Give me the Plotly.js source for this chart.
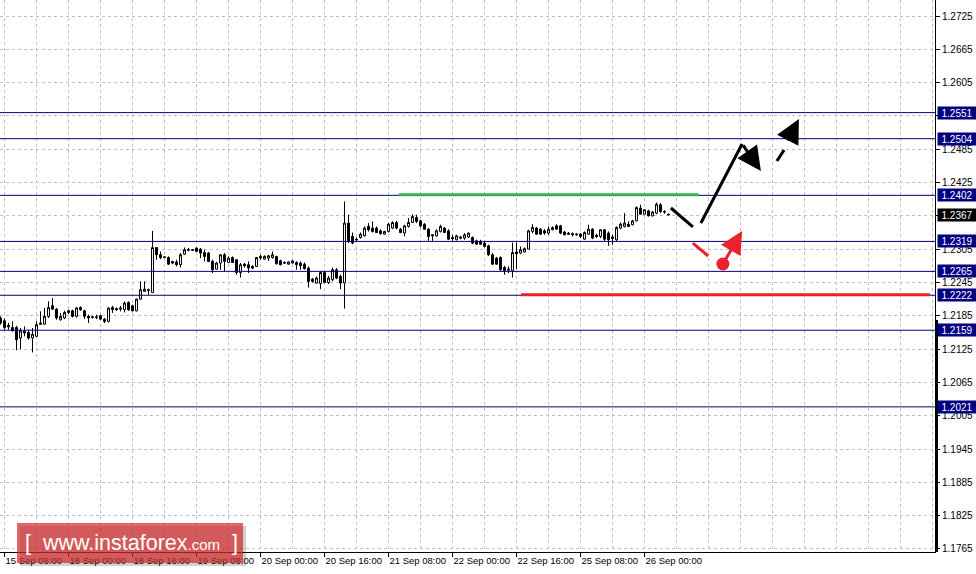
<!DOCTYPE html>
<html>
<head>
<meta charset="utf-8">
<script src="https://cdn.plot.ly/plotly-3.0.1.min.js"></script>
<style>html,body{margin:0;padding:0;background:#fff;}#chart{width:976px;height:574px;}</style>
</head>
<body>
<div id="chart"></div>
<script>
// ---- data (H1 candles) ----
const open = [1.2181,1.2176,1.2165,1.2164,1.2164,1.2145,1.2157,1.2155,1.2145,1.2148,1.2172,1.2170,1.2184,1.2203,1.2197,1.2178,1.2181,1.2194,1.2194,1.2184,
1.2200,1.2194,1.2184,1.2182,1.2182,1.2185,1.2179,1.2175,1.2200,1.2198,1.2197,1.2196,1.2209,1.2203,1.2194,1.2215,1.2229,1.2232,1.2227,1.2308,
1.2295,1.2290,1.2290,1.2283,1.2282,1.2277,1.2296,1.2303,1.2304,1.2307,1.2305,1.2299,1.2298,1.2283,1.2269,1.2280,1.2295,1.2281,1.2290,1.2286,
1.2263,1.2278,1.2277,1.2274,1.2274,1.2292,1.2287,1.2289,1.2290,1.2292,1.2284,1.2281,1.2278,1.2280,1.2281,1.2280,1.2278,1.2271,1.2251,1.2244,
1.2243,1.2263,1.2245,1.2250,1.2268,1.2256,1.2244,1.2352,1.2328,1.2323,1.2326,1.2329,1.2346,1.2343,1.2343,1.2338,1.2332,1.2337,1.2343,1.2353,
1.2341,1.2334,1.2346,1.2353,1.2362,1.2356,1.2350,1.2341,1.2329,1.2329,1.2337,1.2343,1.2338,1.2326,1.2322,1.2327,1.2325,1.2327,1.2326,1.2320,
1.2319,1.2316,1.2311,1.2295,1.2289,1.2290,1.2272,1.2267,1.2266,1.2300,1.2298,1.2300,1.2305,1.2337,1.2343,1.2341,1.2338,1.2334,1.2340,1.2347,
1.2347,1.2336,1.2334,1.2333,1.2331,1.2332,1.2323,1.2332,1.2341,1.2330,1.2328,1.2340,1.2334,1.2324,1.2322,1.2343,1.2346,1.2350,1.2349,1.2356,
1.2379,1.2368,1.2374,1.2365,1.2370,1.2385,1.2373,1.2368];
const high = [1.2184,1.2180,1.2172,1.2175,1.2167,1.2163,1.2166,1.2160,1.2163,1.2175,1.2193,1.2199,1.2211,1.2217,1.2199,1.2190,1.2194,1.2196,1.2196,1.2201,
1.2202,1.2196,1.2187,1.2185,1.2187,1.2187,1.2181,1.2200,1.2203,1.2200,1.2203,1.2211,1.2211,1.2205,1.2216,1.2247,1.2247,1.2234,1.2338,1.2309,
1.2301,1.2292,1.2292,1.2284,1.2286,1.2298,1.2308,1.2307,1.2305,1.2308,1.2307,1.2304,1.2300,1.2286,1.2282,1.2295,1.2298,1.2292,1.2292,1.2286,
1.2280,1.2280,1.2283,1.2276,1.2291,1.2295,1.2294,1.2295,1.2301,1.2293,1.2286,1.2283,1.2283,1.2285,1.2283,1.2283,1.2281,1.2274,1.2253,1.2256,
1.2265,1.2265,1.2257,1.2272,1.2271,1.2259,1.2391,1.2367,1.2335,1.2326,1.2335,1.2346,1.2352,1.2355,1.2346,1.2341,1.2338,1.2352,1.2355,1.2356,
1.2343,1.2349,1.2361,1.2368,1.2367,1.2358,1.2352,1.2343,1.2331,1.2341,1.2349,1.2345,1.2341,1.2331,1.2331,1.2329,1.2334,1.2335,1.2328,1.2322,
1.2322,1.2319,1.2313,1.2298,1.2291,1.2292,1.2275,1.2274,1.2317,1.2317,1.2310,1.2308,1.2340,1.2350,1.2345,1.2343,1.2341,1.2346,1.2346,1.2350,
1.2349,1.2338,1.2336,1.2335,1.2334,1.2334,1.2337,1.2349,1.2343,1.2333,1.2341,1.2341,1.2337,1.2331,1.2346,1.2353,1.2370,1.2355,1.2358,1.2382,
1.2385,1.2377,1.2376,1.2374,1.2389,1.2388,1.2375,1.2369];
const low = [1.2169,1.2160,1.2160,1.2157,1.2123,1.2125,1.2148,1.2142,1.2119,1.2148,1.2169,1.2169,1.2181,1.2196,1.2178,1.2176,1.2179,1.2188,1.2182,1.2182,
1.2194,1.2179,1.2172,1.2180,1.2179,1.2178,1.2172,1.2173,1.2190,1.2194,1.2193,1.2191,1.2194,1.2193,1.2193,1.2214,1.2229,1.2223,1.2226,1.2286,
1.2287,1.2289,1.2277,1.2278,1.2274,1.2272,1.2295,1.2301,1.2302,1.2300,1.2289,1.2283,1.2282,1.2262,1.2268,1.2268,1.2265,1.2280,1.2280,1.2259,
1.2254,1.2272,1.2262,1.2269,1.2273,1.2286,1.2286,1.2284,1.2288,1.2277,1.2276,1.2279,1.2277,1.2279,1.2268,1.2268,1.2268,1.2236,1.2245,1.2243,
1.2233,1.2244,1.2242,1.2247,1.2251,1.2233,1.2198,1.2316,1.2314,1.2320,1.2324,1.2328,1.2337,1.2335,1.2334,1.2331,1.2331,1.2335,1.2341,1.2341,
1.2334,1.2328,1.2344,1.2352,1.2352,1.2344,1.2340,1.2320,1.2320,1.2328,1.2335,1.2334,1.2322,1.2320,1.2321,1.2323,1.2322,1.2325,1.2314,1.2313,
1.2313,1.2308,1.2293,1.2277,1.2277,1.2266,1.2259,1.2262,1.2254,1.2269,1.2296,1.2299,1.2305,1.2334,1.2331,1.2331,1.2331,1.2331,1.2339,1.2340,
1.2332,1.2330,1.2331,1.2328,1.2329,1.2325,1.2322,1.2331,1.2323,1.2325,1.2325,1.2320,1.2311,1.2313,1.2319,1.2341,1.2344,1.2345,1.2348,1.2355,
1.2367,1.2367,1.2364,1.2364,1.2368,1.2370,1.2369,1.2366];
const close = [1.2172,1.2164,1.2168,1.2158,1.2142,1.2158,1.2154,1.2145,1.2152,1.2169,1.2170,1.2184,1.2200,1.2197,1.2181,1.2184,1.2191,1.2191,1.2184,1.2199,
1.2196,1.2184,1.2181,1.2183,1.2183,1.2179,1.2175,1.2199,1.2196,1.2196,1.2199,1.2208,1.2196,1.2194,1.2215,1.2232,1.2233,1.2231,1.2308,1.2295,
1.2290,1.2291,1.2278,1.2280,1.2277,1.2295,1.2304,1.2304,1.2303,1.2301,1.2298,1.2292,1.2283,1.2268,1.2280,1.2295,1.2283,1.2289,1.2281,1.2263,
1.2277,1.2275,1.2271,1.2271,1.2290,1.2289,1.2292,1.2293,1.2295,1.2279,1.2277,1.2280,1.2282,1.2284,1.2277,1.2275,1.2270,1.2247,1.2247,1.2253,
1.2263,1.2245,1.2253,1.2268,1.2253,1.2244,1.2352,1.2319,1.2316,1.2322,1.2332,1.2343,1.2340,1.2337,1.2335,1.2333,1.2337,1.2350,1.2353,1.2343,
1.2335,1.2347,1.2353,1.2364,1.2355,1.2347,1.2341,1.2328,1.2331,1.2338,1.2346,1.2335,1.2323,1.2324,1.2329,1.2325,1.2331,1.2334,1.2316,1.2314,
1.2314,1.2310,1.2295,1.2278,1.2278,1.2268,1.2266,1.2269,1.2299,1.2297,1.2304,1.2306,1.2338,1.2344,1.2332,1.2332,1.2334,1.2341,1.2344,1.2341,
1.2334,1.2331,1.2332,1.2331,1.2332,1.2328,1.2335,1.2341,1.2325,1.2328,1.2340,1.2323,1.2322,1.2327,1.2344,1.2350,1.2352,1.2346,1.2356,1.2380,
1.2368,1.2376,1.2365,1.2372,1.2386,1.2373,1.2372,1.2367];

const timeLabels = ["15 Sep 08:00","18 Sep 00:00","18 Sep 16:00","19 Sep 08:00","20 Sep 00:00","20 Sep 16:00",
                    "21 Sep 08:00","22 Sep 00:00","22 Sep 16:00","25 Sep 08:00","26 Sep 00:00"];
const priceTicks = [1.1765,1.1825,1.1885,1.1945,1.2005,1.2065,1.2125,1.2185,1.2245,1.2305,1.2365,1.2425,1.2485,1.2545,1.2605,1.2665,1.2725];
const blueLevels = [1.2551,1.2504,1.2402,1.2319,1.2265,1.2222,1.2159,1.2021];
const lastPrice = 1.2367;

// forecast drawing (bar index, price)
const greenLevel = {x0: 99.6, x1: 174.5, y: 1.2403};
const redLevel   = {x0: 130.1, x1: 232.4, y: 1.2223};
const blackSegments = [[167.6,1.23792,173.1,1.23450],[175.1,1.23522,185.4,1.24945],[194.1,1.24638,195.9,1.24836]];
const blackArrows   = [[185.4,1.24945,190.1,1.24458],[196.6,1.24981,199.6,1.25395]];
const redSegments   = [[173.1,1.23161,176.9,1.22927]];
const redArrows     = [[180.6,1.22783,185.4,1.23378]];
const redDot        = {x: 180.6, y: 1.22783};

// ---- build ----
const idx = open.map((_, i) => i);
const FONT = "Liberation Sans, Arial, sans-serif";
const RED = '#e8232b', GREEN = '#34b54a', NAVY = '#000080';

const tickVals = timeLabels.map((_, k) => 1 + 16 * k);
const minorVals = [];
for (let v = 1; v < 234; v += 8) minorVals.push(v);

const shapes = [];
blueLevels.forEach(l => shapes.push({type:'line', xref:'paper', x0:0, x1:1, yref:'y', y0:l, y1:l,
  line:{color:NAVY, width:1}, layer:'above'}));
shapes.push({type:'line', xref:'x', yref:'y', x0:greenLevel.x0, x1:greenLevel.x1, y0:greenLevel.y, y1:greenLevel.y,
  line:{color:GREEN, width:3}, layer:'above'});
shapes.push({type:'line', xref:'x', yref:'y', x0:redLevel.x0, x1:redLevel.x1, y0:redLevel.y, y1:redLevel.y,
  line:{color:RED, width:3}, layer:'above'});
blackSegments.forEach(s => shapes.push({type:'line', xref:'x', yref:'y', x0:s[0], y0:s[1], x1:s[2], y1:s[3],
  line:{color:'#000', width:3}, layer:'above'}));
redSegments.forEach(s => shapes.push({type:'line', xref:'x', yref:'y', x0:s[0], y0:s[1], x1:s[2], y1:s[3],
  line:{color:RED, width:3}, layer:'above'}));
// thick part of the price-scale border
shapes.push({type:'rect', xref:'paper', yref:'paper', x0:1, x1:1 + 3/935, y0:0, y1:1 - 320/552,
  fillcolor:'#000', line:{width:0}, layer:'above'});
// logo box (shadow + box)
shapes.push({type:'rect', xref:'paper', yref:'paper', x0:20/935, x1:246/935, y0:-14/552, y1:1 - 526/552,
  fillcolor:'rgba(0,0,0,0.18)', line:{width:0}, layer:'above'});
shapes.push({type:'rect', xref:'paper', yref:'paper', x0:17/935, x1:243/935, y0:-11/552, y1:1 - 523/552,
  fillcolor:'rgba(212,45,45,0.72)', line:{width:0}, layer:'above'});

const annotations = [];
blueLevels.forEach(l => annotations.push({xref:'paper', x:1, xanchor:'left', xshift:2, yref:'y', y:l, yanchor:'middle',
  text:l.toFixed(4), showarrow:false, bgcolor:NAVY, font:{family:FONT, size:10, color:'#fff'},
  width:36, height:10, borderpad:1, align:'center'}));
annotations.push({xref:'paper', x:1, xanchor:'left', xshift:2, yref:'y', y:lastPrice, yanchor:'middle',
  text:lastPrice.toFixed(4), showarrow:false, bgcolor:'#000', font:{family:FONT, size:10, color:'#fff'},
  width:36, height:10, borderpad:1, align:'center'});
blackArrows.forEach(a => annotations.push({xref:'x', yref:'y', axref:'x', ayref:'y', ax:a[0], ay:a[1], x:a[2], y:a[3],
  text:'', showarrow:true, arrowhead:2, arrowsize:1.6, arrowwidth:3, arrowcolor:'#000'}));
redArrows.forEach(a => annotations.push({xref:'x', yref:'y', axref:'x', ayref:'y', ax:a[0], ay:a[1], x:a[2], y:a[3],
  text:'', showarrow:true, arrowhead:2, arrowsize:1.5, arrowwidth:3, arrowcolor:RED}));
annotations.push({xref:'paper', yref:'paper', x:131/935, y:1 - 543/552, xanchor:'center', yanchor:'middle', showarrow:false,
  text:"[&nbsp; www.instaforex<span style='font-size:15px'>.com</span> &nbsp;]",
  font:{family:FONT, size:21.5, color:'#fff'}});

const candles = {
  type:'candlestick', x:idx, open:open, high:high, low:low, close:close,
  increasing:{line:{color:'#000', width:1}, fillcolor:'#fff'},
  decreasing:{line:{color:'#000', width:1}, fillcolor:'#000'},
  whiskerwidth:0, hoverinfo:'skip', showlegend:false
};
const dot = {type:'scatter', mode:'markers', x:[redDot.x], y:[redDot.y],
  marker:{color:RED, size:13}, hoverinfo:'skip', showlegend:false};

const layout = {
  width:976, height:574,
  margin:{l:0, r:41, t:0, b:22, pad:0},
  paper_bgcolor:'#fff', plot_bgcolor:'#fff',
  showlegend:false,
  xaxis:{
    range:[-0.125, 233.625], tickmode:'array', tickvals:tickVals, ticktext:timeLabels,
    tickangle:0, automargin:false,
    ticks:'outside', ticklen:4, tickcolor:'#000', tickwidth:1,
    ticklabelposition:'outside right',
    showline:true, linecolor:'#000', linewidth:1,
    showgrid:true, gridcolor:'#c0c0c0', griddash:'3px,3px', gridwidth:1,
    minor:{tickmode:'array', tickvals:minorVals, showgrid:true, gridcolor:'#c0c0c0', griddash:'3px,3px', ticks:''},
    zeroline:false, rangeslider:{visible:false}, fixedrange:true,
    tickfont:{family:FONT, size:9.5, color:'#000'}
  },
  yaxis:{
    side:'right', range:[1.175958, 1.275382], tickmode:'array', tickvals:priceTicks,
    ticktext:priceTicks.map(v => v.toFixed(4)), automargin:false,
    ticks:'outside', ticklen:4, tickcolor:'#000',
    showline:true, linecolor:'#000', linewidth:1,
    showgrid:true, gridcolor:'#c0c0c0', griddash:'3px,3px', gridwidth:1,
    zeroline:false, fixedrange:true,
    tickfont:{family:FONT, size:10, color:'#000'}
  },
  shapes:shapes, annotations:annotations
};

Plotly.newPlot('chart', [candles, dot], layout, {displayModeBar:false, staticPlot:true});
</script>
</body>
</html>
